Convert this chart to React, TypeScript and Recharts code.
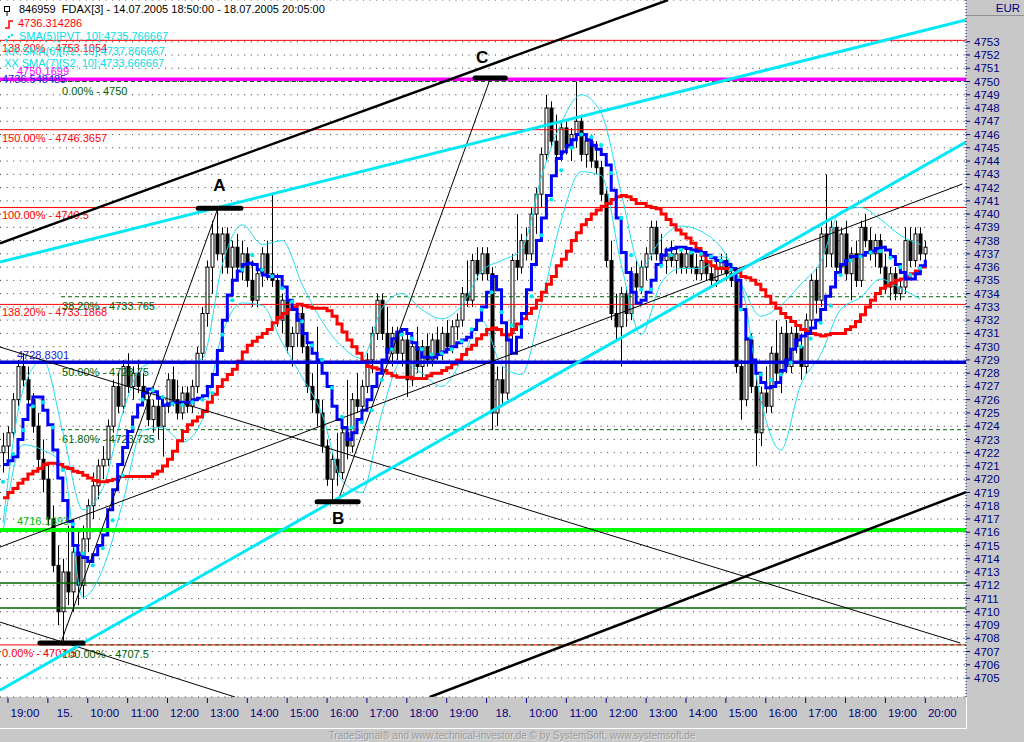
import React from 'react';
import { ComposedChart, Bar, Line, XAxis, YAxis, CartesianGrid, ReferenceLine } from 'recharts';

const FONT = '"Liberation Sans", Arial, sans-serif';

// bar time axis in trading hours from the 19:00 tick of 14.07
const BAR_START = -0.125;
const BAR_STEP = 0.125;

// [open, high, low, close]
const session14 = [
  [4722.0, 4723.5, 4720.5, 4722.5], [4722.5, 4724.0, 4721.5, 4723.5], [4723.5, 4726.5, 4723.0, 4726.0],
  [4726.0, 4729.0, 4725.5, 4728.5], [4728.5, 4729.5, 4727.0, 4727.5], [4727.5, 4728.5, 4725.5, 4726.0],
  [4726.0, 4726.5, 4723.5, 4724.0], [4724.0, 4725.0, 4720.5, 4721.5], [4721.5, 4723.0, 4719.0, 4720.0],
];

const session15 = [
  [4720.0, 4721.0, 4716.5, 4717.0], [4717.0, 4718.0, 4713.0, 4713.5], [4713.5, 4715.0, 4709.0, 4710.0],
  [4710.0, 4714.0, 4707.7, 4713.0], [4713.0, 4716.5, 4710.5, 4711.5], [4711.5, 4715.5, 4710.0, 4714.5],
  [4714.5, 4716.0, 4710.5, 4712.0], [4712.0, 4716.5, 4711.0, 4715.5], [4715.5, 4718.5, 4714.5, 4718.0],
  [4718.0, 4720.5, 4717.0, 4719.5], [4719.5, 4721.5, 4718.5, 4721.0], [4721.0, 4722.5, 4720.0, 4721.5],
  [4721.5, 4724.5, 4721.0, 4724.0], [4724.0, 4727.5, 4723.5, 4727.0], [4727.0, 4728.0, 4725.0, 4725.5],
  [4725.5, 4729.0, 4725.0, 4728.5], [4728.5, 4729.5, 4726.5, 4727.0], [4727.0, 4728.5, 4726.0, 4728.0],
  [4728.0, 4729.0, 4726.5, 4727.0], [4727.0, 4728.0, 4725.5, 4726.0], [4726.0, 4726.5, 4724.0, 4724.5],
  [4724.5, 4726.0, 4723.5, 4725.5], [4725.5, 4726.5, 4723.0, 4724.0], [4724.0, 4726.0, 4721.7, 4725.5],
  [4725.5, 4728.0, 4725.0, 4727.5], [4727.5, 4728.5, 4725.5, 4726.0], [4726.0, 4727.5, 4724.5, 4725.0],
  [4725.0, 4727.0, 4724.5, 4726.5], [4726.5, 4727.0, 4725.0, 4725.5], [4725.5, 4727.5, 4725.0, 4727.0],
  [4727.0, 4730.0, 4726.5, 4729.5], [4729.5, 4733.0, 4729.0, 4732.5], [4732.5, 4736.5, 4731.5, 4736.0],
  [4736.0, 4739.5, 4734.0, 4738.5], [4738.5, 4740.5, 4736.5, 4737.0], [4737.0, 4739.0, 4735.5, 4738.5],
  [4738.5, 4739.0, 4735.5, 4736.0], [4736.0, 4738.0, 4735.0, 4737.5], [4737.5, 4738.5, 4735.5, 4736.0],
  [4736.0, 4738.0, 4735.0, 4737.0], [4737.0, 4737.5, 4734.5, 4735.0], [4735.0, 4736.5, 4733.0, 4733.5],
  [4733.5, 4736.0, 4733.0, 4735.5], [4735.5, 4737.5, 4734.5, 4737.0], [4737.0, 4738.0, 4735.0, 4735.5],
  [4735.5, 4741.6, 4734.5, 4735.0], [4735.0, 4735.5, 4731.5, 4732.0], [4732.0, 4734.0, 4731.0, 4733.5],
  [4733.5, 4734.0, 4729.5, 4730.0], [4730.0, 4731.5, 4728.5, 4731.0], [4731.0, 4733.0, 4730.0, 4732.5],
  [4732.5, 4733.0, 4729.5, 4730.0], [4730.0, 4731.0, 4726.5, 4727.0], [4727.0, 4728.0, 4725.0, 4726.0],
  [4726.0, 4731.5, 4724.0, 4725.0], [4725.0, 4726.0, 4722.0, 4722.5], [4722.5, 4723.0, 4719.5, 4720.0],
  [4720.0, 4722.0, 4718.4, 4721.5], [4721.5, 4723.5, 4719.5, 4720.5], [4720.5, 4724.0, 4720.0, 4723.5],
  [4723.5, 4727.5, 4721.5, 4722.5], [4722.5, 4726.5, 4722.0, 4726.0], [4726.0, 4728.0, 4725.0, 4725.5],
  [4725.5, 4727.5, 4725.0, 4727.0], [4727.0, 4729.5, 4726.5, 4729.0], [4729.0, 4731.5, 4728.0, 4731.0],
  [4731.0, 4734.0, 4730.5, 4733.5], [4733.5, 4734.0, 4730.5, 4731.0], [4731.0, 4733.0, 4729.0, 4729.5],
  [4729.5, 4731.5, 4728.5, 4731.0], [4731.0, 4731.5, 4729.0, 4729.5], [4729.5, 4731.0, 4728.5, 4730.5],
  [4730.5, 4731.0, 4726.2, 4727.5], [4727.5, 4730.5, 4727.0, 4730.0], [4730.0, 4731.5, 4728.0, 4728.5],
  [4728.5, 4730.5, 4727.5, 4730.0], [4730.0, 4731.0, 4728.5, 4729.0], [4729.0, 4731.0, 4728.5, 4730.5],
  [4730.5, 4731.5, 4729.0, 4729.5], [4729.5, 4731.5, 4729.0, 4731.0], [4731.0, 4732.0, 4729.5, 4730.0],
  [4730.0, 4732.0, 4729.5, 4731.5], [4731.5, 4732.5, 4730.5, 4732.0], [4732.0, 4734.5, 4731.5, 4734.0],
  [4734.0, 4736.5, 4733.0, 4733.5], [4733.5, 4737.0, 4733.0, 4736.5], [4736.5, 4737.5, 4735.0, 4735.5],
  [4735.5, 4737.5, 4735.0, 4737.0],
];

const session18 = [
  [4737.0, 4737.5, 4735.0, 4735.5], [4735.5, 4736.0, 4723.7, 4725.0], [4725.0, 4728.5, 4724.0, 4727.5],
  [4727.5, 4728.5, 4725.5, 4726.5], [4726.5, 4731.5, 4726.0, 4731.0], [4731.0, 4737.0, 4730.5, 4736.5],
  [4736.5, 4740.0, 4735.0, 4736.0], [4736.0, 4738.5, 4735.5, 4738.0], [4738.0, 4739.0, 4736.5, 4737.0],
  [4737.0, 4740.5, 4736.5, 4740.0], [4740.0, 4742.0, 4738.5, 4741.5], [4741.5, 4745.0, 4740.5, 4744.5],
  [4744.5, 4749.0, 4744.0, 4748.0], [4748.0, 4748.5, 4745.0, 4745.5], [4745.5, 4747.5, 4744.0, 4744.5],
  [4744.5, 4747.0, 4744.0, 4746.5], [4746.5, 4747.0, 4744.5, 4745.0], [4745.0, 4746.5, 4744.0, 4746.0],
  [4746.0, 4750.0, 4745.0, 4747.0], [4747.0, 4747.5, 4744.0, 4744.5], [4744.5, 4746.0, 4743.5, 4745.5],
  [4745.5, 4746.0, 4743.5, 4744.0], [4744.0, 4745.5, 4743.0, 4743.5], [4743.5, 4744.0, 4741.0, 4741.5],
  [4741.5, 4742.0, 4736.0, 4736.5], [4736.5, 4738.0, 4732.0, 4732.5], [4732.5, 4734.0, 4730.5, 4731.5],
  [4731.5, 4734.5, 4728.5, 4734.0], [4734.0, 4734.5, 4731.5, 4732.5], [4732.5, 4736.0, 4732.0, 4735.5],
  [4735.5, 4736.5, 4734.0, 4734.5], [4734.5, 4736.5, 4734.0, 4736.0], [4736.0, 4737.5, 4735.0, 4737.0],
  [4737.0, 4739.5, 4736.5, 4739.0], [4739.0, 4739.5, 4736.5, 4737.0], [4737.0, 4738.5, 4736.0, 4736.5],
  [4736.5, 4737.5, 4735.5, 4737.0], [4737.0, 4738.0, 4736.0, 4736.5], [4736.5, 4737.5, 4735.5, 4737.0],
  [4737.0, 4737.5, 4735.5, 4736.0], [4736.0, 4737.5, 4735.5, 4737.0], [4737.0, 4737.5, 4735.5, 4736.0],
  [4736.0, 4737.0, 4735.0, 4735.5], [4735.5, 4737.0, 4735.0, 4736.5], [4736.5, 4737.0, 4735.0, 4735.5],
  [4735.5, 4736.5, 4734.5, 4735.0], [4735.0, 4736.5, 4734.5, 4736.0], [4736.0, 4737.0, 4735.5, 4736.5],
  [4736.5, 4737.0, 4735.0, 4735.5], [4735.5, 4736.0, 4734.5, 4735.0], [4735.0, 4735.5, 4728.0, 4728.5],
  [4728.5, 4729.0, 4724.5, 4726.0], [4726.0, 4731.5, 4725.5, 4730.5], [4730.5, 4731.0, 4726.5, 4727.0],
  [4727.0, 4728.0, 4721.0, 4723.5], [4723.5, 4727.0, 4722.5, 4726.5], [4726.5, 4728.5, 4725.0, 4725.5],
  [4725.5, 4730.0, 4725.0, 4729.5], [4729.5, 4732.0, 4727.0, 4728.0], [4728.0, 4731.5, 4726.5, 4731.0],
  [4731.0, 4732.0, 4728.0, 4728.5], [4728.5, 4731.5, 4728.0, 4731.0], [4731.0, 4732.0, 4729.5, 4730.0],
  [4730.0, 4731.0, 4727.5, 4728.5], [4728.5, 4732.5, 4728.0, 4732.0], [4732.0, 4735.5, 4731.5, 4735.0],
  [4735.0, 4736.0, 4732.5, 4733.5], [4733.5, 4739.0, 4733.0, 4738.5], [4738.5, 4743.0, 4736.0, 4737.0],
  [4737.0, 4739.5, 4736.0, 4739.0], [4739.0, 4739.5, 4735.5, 4736.0], [4736.0, 4739.0, 4735.5, 4738.5],
  [4738.5, 4739.5, 4735.0, 4735.5], [4735.5, 4737.5, 4733.5, 4737.0], [4737.0, 4738.0, 4734.5, 4735.0],
  [4735.0, 4739.5, 4734.5, 4739.0], [4739.0, 4740.0, 4737.5, 4738.0], [4738.0, 4739.0, 4736.5, 4737.0],
  [4737.0, 4738.5, 4736.0, 4738.0], [4738.0, 4738.5, 4735.5, 4736.0], [4736.0, 4737.0, 4734.0, 4734.5],
  [4734.5, 4736.0, 4733.5, 4735.5], [4735.5, 4736.0, 4733.5, 4734.0], [4734.0, 4735.0, 4733.5, 4734.5],
  [4734.5, 4739.0, 4734.0, 4738.0], [4738.0, 4739.0, 4736.0, 4736.5], [4736.5, 4739.0, 4736.0, 4738.5],
  [4738.5, 4739.0, 4736.5, 4737.0], [4737.0, 4738.0, 4736.5, 4737.5],
];

// blue step average, one value per bar
const fastSma = [
  4721.1, 4721.4, 4721.7, 4723.0, 4724.5, 4725.6, 4726.2, 4726.2, 4725.2, 4724.1,
  4722.2, 4720.1, 4718.4, 4716.8, 4715.0, 4714.3, 4714.1, 4713.8, 4714.3, 4715.0,
  4715.8, 4717.7, 4719.2, 4721.1, 4722.4, 4723.6, 4724.7, 4725.6, 4726.5, 4726.8,
  4726.6, 4726.1, 4725.6, 4725.7, 4725.8, 4725.8, 4725.8, 4725.8, 4726.0, 4726.1,
  4726.3, 4727.0, 4727.9, 4729.7, 4732.0, 4733.9, 4735.0, 4735.7, 4736.2, 4736.3,
  4736.2, 4735.8, 4735.4, 4735.3, 4735.3, 4735.3, 4734.5, 4733.5, 4732.8, 4732.0,
  4731.0, 4730.3, 4729.5, 4729.0, 4728.0, 4727.0, 4725.5, 4724.5, 4723.9, 4723.0,
  4723.5, 4724.5, 4725.2, 4726.0, 4727.0, 4728.0, 4729.0, 4729.8, 4730.6, 4731.1,
  4731.3, 4731.0, 4730.3, 4729.8, 4729.2, 4729.2, 4729.2, 4729.4, 4729.6, 4729.8,
  4730.0, 4730.3, 4730.5, 4730.7, 4731.3, 4732.0, 4733.0, 4734.1, 4735.3, 4734.3,
  4731.8, 4730.5, 4729.5, 4730.7, 4732.5, 4734.3, 4736.2, 4738.0, 4739.7, 4741.4,
  4742.9, 4744.2, 4744.7, 4745.2, 4745.6, 4746.0, 4746.0, 4745.6, 4745.2, 4744.9,
  4744.5, 4743.7, 4741.8, 4739.7, 4737.1, 4735.6, 4734.1, 4733.3, 4733.5, 4734.1,
  4735.0, 4736.2, 4736.9, 4737.3, 4737.4, 4737.5, 4737.5, 4737.4, 4737.3, 4737.2,
  4737.1, 4736.9, 4736.7, 4736.5, 4736.4, 4736.2, 4735.9, 4735.0, 4732.8, 4730.6,
  4729.0, 4728.0, 4727.3, 4726.9, 4727.0, 4727.3, 4728.2, 4729.0, 4729.8, 4730.5,
  4730.8, 4731.0, 4731.4, 4732.0, 4732.8, 4733.8, 4734.5, 4735.6, 4736.2, 4736.5,
  4736.8, 4736.8, 4736.9, 4737.1, 4737.2, 4737.4, 4737.5, 4737.3, 4736.8, 4736.2,
  4735.6, 4735.1, 4735.1, 4735.5, 4736.1, 4736.55,
];

// red step average, one value per bar
const slowSma = [
  4718.6, 4719.0, 4719.3, 4719.7, 4720.0, 4720.4, 4720.6, 4720.8, 4721.1, 4721.2,
  4721.2, 4721.1, 4720.9, 4720.8, 4720.6, 4720.5, 4720.3, 4720.1, 4719.9, 4719.8,
  4719.8, 4719.9, 4720.0, 4720.2, 4720.2, 4720.2, 4720.2, 4720.2, 4720.2, 4720.2,
  4720.4, 4720.6, 4721.0, 4721.5, 4722.1, 4722.9, 4723.6, 4724.1, 4724.4, 4724.7,
  4725.1, 4725.8, 4726.4, 4727.0, 4727.5, 4727.9, 4728.3, 4728.9, 4729.6, 4730.1,
  4730.4, 4730.7, 4731.0, 4731.3, 4731.8, 4732.2, 4732.5, 4732.8, 4733.0, 4733.2,
  4733.1, 4733.0, 4732.9, 4732.9, 4732.9, 4732.7, 4732.3, 4731.7, 4731.1, 4730.5,
  4730.0, 4729.5, 4728.9, 4728.5, 4728.4, 4728.3, 4728.2, 4728.0, 4727.8, 4727.7,
  4727.7, 4727.7, 4727.6, 4727.6, 4727.6, 4727.8, 4728.0, 4728.0, 4728.2, 4728.4,
  4728.7, 4729.0, 4729.4, 4729.8, 4730.1, 4730.6, 4730.9, 4731.3, 4731.4, 4731.3,
  4730.9, 4730.9, 4731.3, 4731.7, 4732.1, 4732.5, 4732.9, 4733.5, 4734.1, 4734.7,
  4735.3, 4736.1, 4736.6, 4737.2, 4738.0, 4738.6, 4739.2, 4739.6, 4740.0, 4740.3,
  4740.6, 4740.8, 4741.1, 4741.3, 4741.4, 4741.3, 4741.1, 4740.8, 4740.8, 4740.6,
  4740.5, 4740.4, 4740.0, 4739.6, 4739.2, 4738.8, 4738.5, 4738.2, 4737.8, 4737.4,
  4736.9, 4736.4, 4736.1, 4735.9, 4735.9, 4735.9, 4735.9, 4735.6, 4735.3, 4735.2,
  4735.0, 4734.7, 4734.3, 4733.8, 4733.3, 4732.9, 4732.5, 4732.2, 4731.9, 4731.6,
  4731.3, 4731.1, 4731.0, 4730.9, 4730.8, 4730.9, 4731.0, 4731.0, 4731.0, 4731.3,
  4731.5, 4731.9, 4732.4, 4733.0, 4733.5, 4734.0, 4734.4, 4734.6, 4734.8, 4735.0,
  4735.1, 4735.3, 4735.5, 4735.7, 4736.0, 4736.3,
];

// SMA(5)[PVT, 10], every second bar
const pvtSma = [
  4719.8, 4721.9, 4723.7, 4725.5, 4725.8, 4723.9, 4720.7, 4716.6, 4714.4, 4713.5,
  4714.8, 4716.9, 4720.3, 4723.9, 4726.0, 4726.7, 4726.2, 4725.7, 4725.6, 4725.8,
  4726.0, 4726.5, 4730.9, 4733.5, 4735.8, 4736.9, 4735.8, 4735.3, 4734.4, 4733.4,
  4731.9, 4730.1, 4729.0, 4726.9, 4724.7, 4723.9, 4724.3, 4725.2, 4727.5, 4729.8,
  4730.9, 4730.6, 4729.8, 4729.4, 4729.5, 4729.8, 4730.4, 4731.3, 4732.8, 4734.1,
  4732.6, 4731.6, 4731.5, 4733.8, 4738.4, 4741.1, 4743.3, 4745.0, 4746.0, 4745.8,
  4745.2, 4743.1, 4739.7, 4736.9, 4734.3, 4734.3, 4736.1, 4736.9, 4737.3, 4737.1,
  4737.0, 4736.8, 4736.5, 4735.8, 4732.8, 4730.7, 4727.9, 4727.5, 4727.9, 4728.8,
  4730.0, 4730.6, 4731.8, 4733.1, 4735.4, 4736.5, 4736.8, 4737.1, 4737.2, 4736.7,
  4736.0, 4735.4, 4735.9,
];

// SMA(6)[R2, 10] and SMA(7)[S2, 10], every fourth bar
const r2Band = [
  4716.7, 4726.7, 4729.0, 4723.6, 4717.7, 4719.3, 4725.0, 4728.5, 4728.9, 4728.7,
  4729.1, 4736.2, 4739.2, 4737.7, 4738.0, 4734.7, 4731.9, 4730.0, 4729.1, 4732.9,
  4734.0, 4732.8, 4732.1, 4733.1, 4735.7, 4736.5, 4737.3, 4742.8, 4746.9, 4749.0,
  4747.6, 4741.6, 4736.0, 4738.1, 4739.1, 4738.7, 4737.5, 4734.8, 4732.3, 4733.1,
  4734.7, 4736.4, 4740.2, 4740.5, 4739.6, 4738.4, 4737.7,
];
const s2Band = [
  4716.0, 4722.6, 4722.2, 4721.1, 4711.1, 4713.2, 4718.2, 4723.7, 4723.9, 4722.8,
  4724.5, 4731.0, 4733.3, 4733.1, 4730.3, 4727.7, 4724.9, 4719.9, 4719.0, 4725.0,
  4728.9, 4728.0, 4727.0, 4729.0, 4732.0, 4728.6, 4727.9, 4733.2, 4739.6, 4743.2,
  4742.9, 4736.2, 4730.9, 4734.8, 4735.9, 4735.9, 4736.8, 4734.8, 4726.0, 4722.2,
  4727.1, 4729.4, 4732.8, 4733.7, 4735.1, 4734.4, 4733.6,
];

// horizontal levels
const redLevels = [4753.1054, 4746.3657, 4740.5, 4733.1868, 4707.5];
const redLevelText = ['138.20% - 4753.1054', '150.00% - 4746.3657', '100.00% - 4740.5', '138.20% - 4733.1868', '0.00% - 4707.5'];
const fibLevels = [4750, 4733.765, 4728.75, 4723.735, 4707.5];
const fibLevelText = ['0.00% - 4750', '38.20% - 4733.765', '50.00% - 4728.75', '61.80% - 4723.735', '100.00% - 4707.5'];
const fibStart = 1.33;
const darkGreenLevels = [4712.17, 4710.28];
const magentaLevel = 4750.1699;
const blueLevel = 4728.8301;
const greenLevel = 4716.1693;

// trend lines as [[t, price], [t, price]]
const blackThickLines = [
  [[-0.2, 4737.8], [16.55, 4756.15]],
  [[10.58, 4703.57], [24.02, 4719.03]],
];
const cyanLines = [
  [[-0.2, 4736.38], [24.02, 4754.64]],
  [[-0.2, 4704.09], [24.02, 4745.43]],
];
const blackThinLines = [
  [[-0.2, 4729.97], [23.88, 4707.64]],
  [[-0.2, 4709.22], [5.69, 4703.57]],
  [[-0.2, 4714.88], [23.93, 4742.27]],
  [[1.33, 4707.7], [5.27, 4740.5]],
  [[8.28, 4718.4], [12.09, 4750.2]],
];

// pivot markers: [from t, to t, price, name]
const pivots: [number, number, number, string][] = [
  [0.8, 1.88, 4707.64, ''],
  [4.77, 5.84, 4740.44, 'A'],
  [7.75, 8.78, 4718.3, 'B'],
  [11.71, 12.47, 4750.26, 'C'],
];

const hourTicks = [0, 1, 2, 3, 4, 5, 6, 7, 8, 9, 10, 11, 12, 13, 14, 15, 16, 17, 18, 19, 20, 21, 22, 23];
const hourLabels = ['19:00', '15.', '10:00', '11:00', '12:00', '13:00', '14:00', '15:00', '16:00', '17:00', '18:00', '19:00',
  '18.', '10:00', '11:00', '12:00', '13:00', '14:00', '15:00', '16:00', '17:00', '18:00', '19:00', '20:00'];
const priceTicks = [
  4705, 4706, 4707, 4708, 4709, 4710, 4711, 4712, 4713, 4714, 4715, 4716, 4717, 4718, 4719, 4720, 4721,
  4722, 4723, 4724, 4725, 4726, 4727, 4728, 4729, 4730, 4731, 4732, 4733, 4734, 4735, 4736, 4737, 4738,
  4739, 4740, 4741, 4742, 4743, 4744, 4745, 4746, 4747, 4748, 4749, 4750, 4751, 4752, 4753,
];

const rows = [...session14, ...session15, ...session18].map(([open, high, low, close], i) => ({
  t: BAR_START + i * BAR_STEP,
  open, high, low, close,
  fast: fastSma[i],
  slow: slowSma[i],
  pvt: i % 2 === 0 ? pvtSma[i / 2] : null,
  r2: i % 4 === 0 ? r2Band[i / 4] : null,
  s2: i % 4 === 0 ? s2Band[i / 4] : null,
}));

const Candle = (p: any) => {
  const { x, y, width, height, payload } = p;
  if (x == null || y == null || !payload) return null;
  const top = Math.min(y, y + height);
  const h = Math.abs(height);
  const k = h / Math.max(payload.high - payload.low, 0.0001);
  const cx = Math.round(x + width / 2) + 0.5;
  const yo = top + (payload.high - payload.open) * k;
  const yc = top + (payload.high - payload.close) * k;
  const up = payload.close >= payload.open;
  return (
    <g>
      <line x1={cx} x2={cx} y1={top} y2={top + h} stroke="#000" strokeWidth={1} />
      <rect x={cx - 1.5} y={Math.min(yo, yc)} width={3} height={Math.max(Math.abs(yc - yo), 1)}
        fill={up ? '#fff' : '#000'} stroke="#000" strokeWidth={1} />
    </g>
  );
};

const HourTick = (p: any) => {
  const { x, y, payload } = p;
  return (
    <g>
      <line x1={x} x2={x} y1={y + 1} y2={y + 6} stroke="#000080" />
      <text x={x + 17} y={y + 20} textAnchor="middle" fill="#000080" fontSize={11.5} fontFamily={FONT}>
        {hourLabels[payload.value]}
      </text>
    </g>
  );
};

const tag = (text: string, color: string, dx: number, dy: number, size = 11, weight = 'normal') => (p: any) => {
  const vb = p.viewBox || {};
  return (
    <text x={(vb.x ?? 0) + dx} y={(vb.y ?? 0) + dy} fill={color} fontSize={size} fontWeight={weight} fontFamily={FONT}>
      {text}
    </text>
  );
};

const letterOffset: Record<string, [number, number]> = { A: [15, -17], B: [15, 22], C: [1, -15] };

const head = (top: number, left: number, color: string): React.CSSProperties => ({
  position: 'absolute', top, left, color, fontSize: 11, fontFamily: FONT, whiteSpace: 'nowrap', lineHeight: '13px',
});

export default function App() {
  return (
    <div style={{ position: 'absolute', left: 0, top: 0, width: 1024, height: 742, background: '#c8c8c8', overflow: 'hidden' }}>
      <ComposedChart width={1024} height={742} data={rows} margin={{ top: 0, right: 0, bottom: 0, left: 0 }}>
        <CartesianGrid vertical={false} stroke="#333" strokeDasharray="1 5.6" fill="#ffffff" />
        <XAxis type="number" dataKey="t" domain={[-0.2, 24.02]} allowDataOverflow ticks={hourTicks} interval={0}
          tick={<HourTick />} tickLine={false} axisLine={false} tickSize={0} tickMargin={0} height={45} />
        <YAxis orientation="right" domain={[4703.57, 4756.15]} allowDataOverflow ticks={priceTicks} interval={0} width={58}
          axisLine={{ stroke: '#000080', strokeDasharray: '1 2' }} tickLine={{ stroke: '#000080' }} tickSize={4} tickMargin={4}
          tick={{ fill: '#000080', fontSize: 11.5, fontFamily: FONT }} />

        {redLevels.map((v, k) => (
          <ReferenceLine key={`r${k}`} y={v} stroke="#ff0000" strokeWidth={1} label={tag(redLevelText[k], '#ff0000', 2, 12)} />
        ))}
        {darkGreenLevels.map((v, k) => (
          <ReferenceLine key={`g${k}`} y={v} stroke="#006400" strokeWidth={1.5} />
        ))}
        {fibLevels.map((v, k) => (
          <ReferenceLine key={`f${k}`} segment={[{ x: fibStart, y: v }, { x: 24.02, y: v }]} stroke="#006400"
            strokeDasharray="4 3" ifOverflow="hidden" label={tag(fibLevelText[k], '#006400', 1, 13)} />
        ))}

        <Bar dataKey={(d: any) => [d.low, d.high]} barSize={3} shape={<Candle />} isAnimationActive={false} />

        <Line dataKey="r2" type="monotone" stroke="#20e0f0" strokeWidth={1} dot={false} activeDot={false} connectNulls isAnimationActive={false} />
        <Line dataKey="s2" type="monotone" stroke="#20e0f0" strokeWidth={1} dot={false} activeDot={false} connectNulls isAnimationActive={false} />
        <Line dataKey="slow" type="stepAfter" stroke="#ff0000" strokeWidth={3} dot={false} activeDot={false} isAnimationActive={false} />
        <Line dataKey="fast" type="stepAfter" stroke="#0000ff" strokeWidth={3} dot={false} activeDot={false} isAnimationActive={false} />
        <Line dataKey="pvt" stroke="none" dot={{ r: 2.1, fill: '#00e8f0', stroke: 'none' }} activeDot={false} isAnimationActive={false} />

        <ReferenceLine y={magentaLevel} stroke="#ff00ff" strokeWidth={3.5} label={tag('4750.1699', '#ff00ff', 17, -4)} />
        <ReferenceLine y={blueLevel} stroke="#0000d8" strokeWidth={3.5} label={tag('4728.8301', '#2020e0', 17, -3)} />
        <ReferenceLine y={greenLevel} stroke="#00ff00" strokeWidth={4} label={tag('4716.1693', '#00c000', 17, -5)} />

        {blackThinLines.map(([a, b], k) => (
          <ReferenceLine key={`bt${k}`} segment={[{ x: a[0], y: a[1] }, { x: b[0], y: b[1] }]} stroke="#000" strokeWidth={1} ifOverflow="hidden" />
        ))}
        {cyanLines.map(([a, b], k) => (
          <ReferenceLine key={`c${k}`} segment={[{ x: a[0], y: a[1] }, { x: b[0], y: b[1] }]} stroke="#00e8f8" strokeWidth={3} ifOverflow="hidden" />
        ))}
        {blackThickLines.map(([a, b], k) => (
          <ReferenceLine key={`bk${k}`} segment={[{ x: a[0], y: a[1] }, { x: b[0], y: b[1] }]} stroke="#000" strokeWidth={2.5} ifOverflow="hidden" />
        ))}
        {pivots.map(([t0, t1, v, name]) => (
          <ReferenceLine key={`p${t0}`} segment={[{ x: t0, y: v }, { x: t1, y: v }]} stroke="#000" strokeWidth={5}
            strokeLinecap="round" ifOverflow="hidden"
            label={name ? tag(name, '#000', letterOffset[name][0], letterOffset[name][1], 17, 'bold') : undefined} />
        ))}
      </ComposedChart>

      <svg width={16} height={44} style={{ position: 'absolute', left: 0, top: 0 }}>
        <rect x={4.5} y={6.5} width={5} height={5} fill="none" stroke="#000" />
        <line x1={7} x2={7} y1={11.5} y2={16} stroke="#000" />
        <polyline points="5,28 9,28 9,21 13,21" fill="none" stroke="#ff0000" strokeWidth={1.5} />
        <circle cx={6} cy={40} r={1.3} fill="#00e0e8" />
        <circle cx={9} cy={37} r={1.3} fill="#00e0e8" />
        <circle cx={12} cy={35} r={1.3} fill="#00e0e8" />
      </svg>
      <div style={head(3, 19, '#000')}>846959&nbsp; FDAX[3] - 14.07.2005 18:50:00 - 18.07.2005 20:05:00</div>
      <div style={head(17, 18, '#ff0000')}>4736.314286</div>
      <div style={head(30, 19, '#00e0e8')}>SMA(5)[PVT, 10]:4735.766667</div>
      <div style={head(45, 4, '#00e0e8')}>XX SMA(6)[R2, 10]:4737.866667</div>
      <div style={head(57, 4, '#00e0e8')}>XX SMA(7)[S2, 10]:4733.666667</div>
      <div style={head(73, 2, '#2020e0')}>4736.548485</div>

      <div style={{ position: 'absolute', left: 967, top: 0, width: 57, height: 16, borderBottom: '1px solid #909090',
        color: '#000080', fontSize: 11.5, fontFamily: FONT, textAlign: 'right', lineHeight: '16px', boxSizing: 'border-box', paddingRight: 4 }}>
        EUR
      </div>
      <div style={{ position: 'absolute', left: 0, top: 697, width: 967, height: 32, borderRight: '1px solid #fff',
        borderBottom: '1px solid #fff', boxSizing: 'border-box', pointerEvents: 'none' }} />
      <div style={{ position: 'absolute', left: 0, top: 729, width: 1024, textAlign: 'center', color: '#9a9a9a',
        fontSize: 10, fontFamily: FONT, lineHeight: '13px', textShadow: '1px 1px 0 #e4e4e4' }}>
        TradeSignal® and www.technical-investor.de © by SystemSoft, www.systemsoft.de
      </div>
    </div>
  );
}
